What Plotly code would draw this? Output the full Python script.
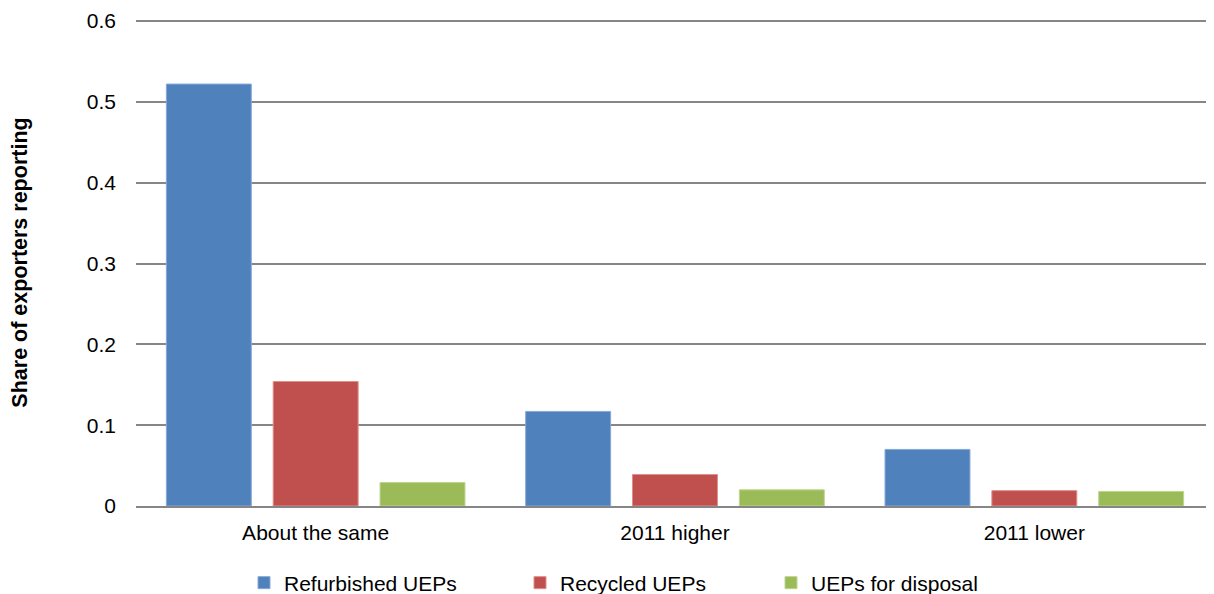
import plotly.graph_objects as go

categories = ["About the same", "2011 higher", "2011 lower"]
refurbished = [0.522, 0.117, 0.070]
recycled = [0.154, 0.039, 0.019]
disposal = [0.029, 0.020, 0.018]
series_names = ["Refurbished UEPs", "Recycled UEPs", "UEPs for disposal"]
y_ticks = [0, 0.1, 0.2, 0.3, 0.4, 0.5, 0.6]
y_tick_labels = ["0", "0.1", "0.2", "0.3", "0.4", "0.5", "0.6"]

colors = ["#4F81BD", "#C0504D", "#9BBB59"]
edge_colors = ["#86A8D6", "#E08E8C", "#BCD68C"]
legends = ["legend", "legend2", "legend3"]

FONT = "Liberation Sans, Arial, sans-serif"

# page has an 8px body margin; figure is sized to fit the window
OFF = 8
W, H = 1214 - OFF, 594 - OFF
L, R, T, B = 136 - OFF, 0, 11, 88

fig = go.Figure()
for vals, name, c, ec, lg in zip([refurbished, recycled, disposal], series_names, colors, edge_colors, legends):
    fig.add_trace(go.Bar(
        x=categories, y=vals, name=name,
        marker=dict(color=c, line=dict(color=ec, width=1)),
        legend=lg,
    ))

legend_common = dict(
    orientation="h", xref="container", yref="container",
    yanchor="middle", y=1 - (583 - OFF) / H,
    xanchor="left", font=dict(family=FONT, size=21, color="#000000"),
    bgcolor="rgba(0,0,0,0)", itemwidth=30, tracegroupgap=0,
)

fig.update_layout(
    width=W, height=H,
    margin=dict(l=L, r=R, t=T, b=B),
    paper_bgcolor="white", plot_bgcolor="white",
    showlegend=True,
    barmode="group", bargap=0.108, bargroupgap=0.205,
    font=dict(family=FONT, size=21, color="#000000"),
    legend=dict(x=(244 - OFF) / W, **legend_common),
    legend2=dict(x=(520 - OFF) / W, **legend_common),
    legend3=dict(x=(771 - OFF) / W, **legend_common),
    xaxis=dict(
        showline=True, linecolor="#868686", linewidth=2,
        showgrid=False, ticks="", tickfont=dict(size=21),
        ticklabelstandoff=7,
    ),
    yaxis=dict(
        range=[0, 0.6025], tickvals=y_ticks, ticktext=y_tick_labels,
        showgrid=True, gridcolor="#868686", gridwidth=2,
        zeroline=False, showline=False, ticks="",
        tickfont=dict(size=21), ticklabelstandoff=19,
        title=dict(text="<b>Share of exporters reporting</b>",
                   font=dict(size=21.5), standoff=58),
        automargin=False,
    ),
)

fig.write_html("out.html")
